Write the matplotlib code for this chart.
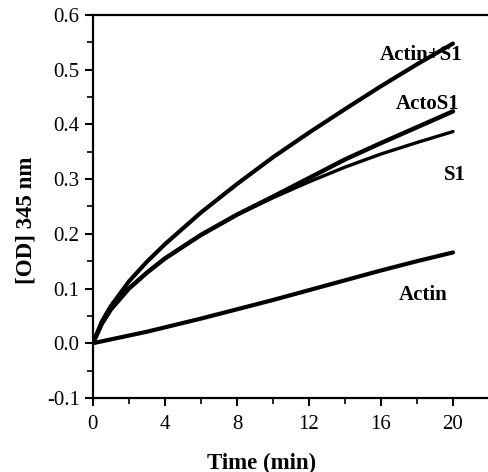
import matplotlib
matplotlib.use("Agg")
import matplotlib.pyplot as plt
from matplotlib.ticker import MultipleLocator, FormatStrFormatter

t = [0, 0.5, 1, 2, 3, 4, 6, 8, 10, 12, 14, 16, 18, 20]
actin_s1 = [0, 0.040, 0.068, 0.113, 0.149, 0.181, 0.239, 0.291, 0.340, 0.385, 0.428, 0.470, 0.510, 0.548]
acto_s1 = [0, 0.036, 0.062, 0.100, 0.129, 0.155, 0.198, 0.235, 0.268, 0.302, 0.336, 0.366, 0.395, 0.424]
s1 = [0, 0.036, 0.062, 0.100, 0.129, 0.155, 0.198, 0.235, 0.266, 0.295, 0.322, 0.346, 0.367, 0.387]
actin = [0, 0.0035, 0.007, 0.014, 0.021, 0.029, 0.045, 0.062, 0.079, 0.097, 0.115, 0.133, 0.150, 0.166]

labels = ["Actin+S1", "ActoS1", "S1", "Actin"]
xticks = [0, 4, 8, 12, 16, 20]
yticks = [-0.1, 0.0, 0.1, 0.2, 0.3, 0.4, 0.5, 0.6]

plt.rcParams['font.family'] = ['Liberation Serif', 'DejaVu Serif']

fig = plt.figure(figsize=(4.89, 4.72), dpi=100)
ax = fig.add_axes([0.190, 0.157, 0.810, 0.811])

ax.plot(t, actin_s1, color='black', lw=3.0, solid_capstyle='round')
ax.plot(t, acto_s1, color='black', lw=3.2, solid_capstyle='round')
ax.plot(t, s1, color='black', lw=2.4, solid_capstyle='round')
ax.plot(t, actin, color='black', lw=3.0, solid_capstyle='round')

ax.set_xlim(0, 22)
ax.set_ylim(-0.1, 0.6)
ax.set_xticks(xticks)
ax.set_yticks(yticks)
ax.yaxis.set_major_formatter(FormatStrFormatter('%.1f'))
ax.xaxis.set_minor_locator(MultipleLocator(2))
ax.yaxis.set_minor_locator(MultipleLocator(0.05))
ax.tick_params(which='major', direction='out', length=6, width=1.5, labelsize=15)
ax.tick_params(which='minor', direction='out', length=4, width=1.2)
ax.tick_params(axis='x', pad=6)
for s in ['left', 'bottom', 'top']:
    ax.spines[s].set_linewidth(1.6)
ax.spines['right'].set_visible(False)

ax.set_xlabel('Time (min)', fontsize=16.5, fontweight='bold', va='center')
ax.set_ylabel('[OD] 345 nm', fontsize=16.5, fontweight='bold', va='center')
ax.xaxis.set_label_coords(0.427, -0.17)
ax.yaxis.set_label_coords(-0.169, 0.465)

ax.text(15.95, 0.527, labels[0], fontsize=15, fontweight='bold', va='center', ha='left')
ax.text(16.8, 0.437, labels[1], fontsize=15, fontweight='bold', va='center', ha='left')
ax.text(19.5, 0.307, labels[2], fontsize=15, fontweight='bold', va='center', ha='left')
ax.text(17.0, 0.088, labels[3], fontsize=15, fontweight='bold', va='center', ha='left')

fig.savefig('out.png', dpi=100)
